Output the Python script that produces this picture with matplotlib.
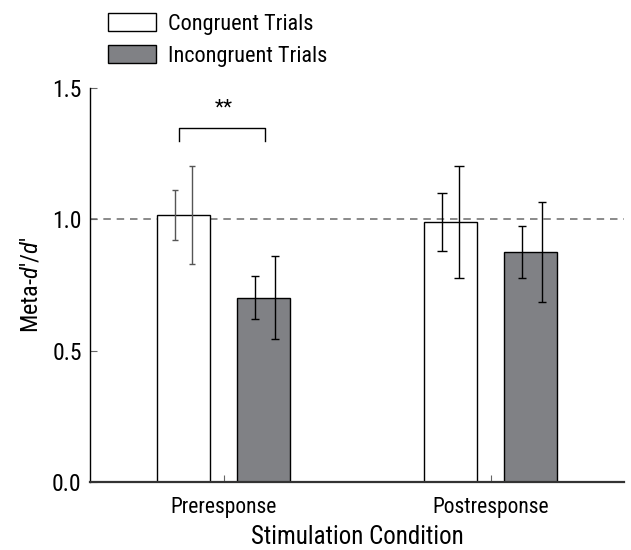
import matplotlib
matplotlib.use("Agg")
import matplotlib.pyplot as plt
import numpy as np

FONT = 'Roboto Condensed'
plt.rcParams['font.family'] = [FONT, 'DejaVu Sans']
plt.rcParams['mathtext.fontset'] = 'custom'
plt.rcParams['mathtext.it'] = FONT + ':italic'
plt.rcParams['mathtext.rm'] = FONT

conditions = ['Preresponse', 'Postresponse']
series = ['Congruent Trials', 'Incongruent Trials']
congruent = [1.016, 0.990]
incongruent = [0.702, 0.876]
congruent_err_inner = [0.096, 0.110]
congruent_err_outer = [0.187, 0.214]
incongruent_err_inner = [0.081, 0.098]
incongruent_err_outer = [0.158, 0.192]
yticks = [0.0, 0.5, 1.0, 1.5]

fig = plt.figure(figsize=(6.31, 5.5), dpi=100)
ax = fig.add_axes([90/631, 1-481.7/550, (624-90)/631, (481.7-88.3)/550])

x = np.arange(len(conditions))
w = 0.2
off = 0.15
eoff = 0.033
gray = '#808185'

b1 = ax.bar(x - off, congruent, w, color='white', edgecolor='black', linewidth=1.0, label=series[0], zorder=2)
b2 = ax.bar(x + off, incongruent, w, color=gray, edgecolor='black', linewidth=1.0, label=series[1], zorder=2)

ecols = [['#555555', 'black'], ['black', 'black']]
caps_c = [2.0, 3.5]
caps_i = [2.6, 3.0]
for i in range(len(conditions)):
    ax.errorbar(x[i] - off - eoff, congruent[i], yerr=congruent_err_inner[i], fmt='none',
                ecolor=ecols[i][0], elinewidth=1.0, capsize=caps_c[i], capthick=1.0, zorder=3)
    ax.errorbar(x[i] - off + eoff, congruent[i], yerr=congruent_err_outer[i], fmt='none',
                ecolor=ecols[i][0], elinewidth=1.0, capsize=caps_c[i], capthick=1.0, zorder=3)
    ax.errorbar(x[i] + off - eoff, incongruent[i], yerr=incongruent_err_inner[i], fmt='none',
                ecolor='black', elinewidth=1.0, capsize=caps_i[i], capthick=1.0, zorder=3)
    ax.errorbar(x[i] + off + eoff + 0.01, incongruent[i], yerr=incongruent_err_outer[i], fmt='none',
                ecolor='black', elinewidth=1.0, capsize=caps_i[i], capthick=1.0, zorder=3)

ax.axhline(1.0, color='#777777', linestyle=(0, (4.5, 3.5)), linewidth=1.2, zorder=1)

# significance bracket
bx0, bx1 = x[0] - off - 0.017, x[0] + off + 0.004
ax.plot([bx0, bx0, bx1, bx1], [1.30, 1.35, 1.35, 1.30], color='black', linewidth=1.0, clip_on=False)
ax.text(x[0], 1.425, '**', ha='center', va='center', fontsize=15)

ax.set_xlim(-0.5, 1.5)
ax.set_ylim(0, 1.5)
ax.set_yticks(yticks)
ax.set_yticklabels([f'{t:.1f}' for t in yticks])
ax.set_xticks(x)
ax.set_xticklabels(conditions)
ax.tick_params(axis='both', direction='in', length=5, width=0.8, color='#666666')
ax.tick_params(axis='x', pad=11, labelsize=15.5)
ax.tick_params(axis='y', pad=6, labelsize=17)
for s in ['top', 'right']:
    ax.spines[s].set_visible(False)
ax.spines['left'].set_linewidth(1.0)
ax.spines['bottom'].set_linewidth(1.6)
ax.spines['bottom'].set_color('#333333')

ax.set_xlabel('Stimulation Condition', fontsize=18, labelpad=5)
ax.set_ylabel("Meta-$d$'/$d$'", fontsize=17.5, labelpad=7)

fig.legend(handles=[b1, b2], labels=series, loc='upper left', bbox_to_anchor=(92/631, 1.005),
           frameon=False, fontsize=16, handlelength=2.2, handleheight=0.9,
           handletextpad=0.5, labelspacing=0.46, borderaxespad=0.3)

fig.savefig('out.png', dpi=100)
